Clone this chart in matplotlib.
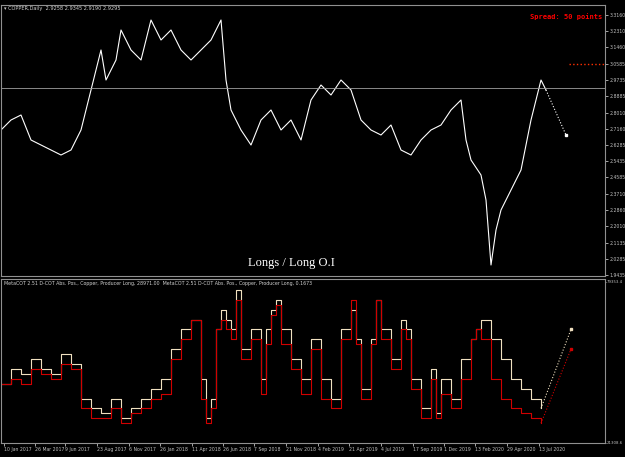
import matplotlib
matplotlib.use("Agg")
import matplotlib.pyplot as plt
import numpy as np

W, H = 625, 457
PX = 0.587  # px per bar

# price keypoints: bar index, price
price_x = [0,10,20,30,40,50,60,70,80,90,100,105,115,120,130,140,150,160,170,180,190,200,210,220,225,230,240,250,260,270,280,290,300,310,320,330,340,350,360,370,380,390,400,410,420,430,440,450,460,465,470,480,485,490,495,500,510,520,530,540,545]
price_ypx = [130,120,115,140,145,150,155,150,130,90,50,80,60,30,50,60,20,40,30,50,60,50,40,20,80,110,130,145,120,110,130,120,140,100,85,95,80,90,120,130,135,125,150,155,140,130,125,110,100,140,160,175,200,265,230,210,190,170,120,80,90]
bars = np.array(price_x) / PX
prices = 3.316 - (np.array(price_ypx) - 15) * (1.3725 / 260)

cot_x = [0,10,20,30,40,50,60,70,80,90,100,110,120,130,140,150,160,170,180,190,200,205,210,215,220,225,230,235,240,250,260,265,270,275,280,290,300,310,320,330,340,350,355,360,370,375,380,390,400,405,410,420,430,435,440,450,460,470,475,480,490,500,510,520,530,540]
ratio_px = [385,370,375,360,370,375,355,365,400,410,415,400,420,410,400,390,380,350,330,320,380,420,400,330,310,320,330,290,350,330,380,330,310,300,330,360,380,340,380,400,330,310,340,390,340,300,330,360,320,330,380,410,370,415,380,400,360,340,330,320,340,360,380,390,400,410]
long_px = [385,380,385,370,375,380,365,370,410,420,420,410,425,415,410,400,395,360,340,320,400,425,410,330,320,330,340,300,360,340,395,345,315,305,345,370,395,350,400,410,340,300,345,400,345,300,340,370,330,340,390,420,380,420,395,410,380,340,330,340,380,400,410,415,420,425]
def pxv(y):
    return 21308.6 + (445 - np.array(y, float)) / (445 - 282) * 58044.8
cot_bars = np.array(cot_x) / PX
ratio_v = pxv(ratio_px)
long_v = pxv(long_px)

price_ticks = [3.3160,3.2310,3.1460,3.0585,2.9735,2.8885,2.8010,2.7160,2.6285,2.5435,2.4585,2.3710,2.2860,2.2010,2.1135,2.0285,1.9435]
date_labels = ["10 Jan 2017","26 Mar 2017","9 Jun 2017","23 Aug 2017","6 Nov 2017","26 Jan 2018","11 Apr 2018","26 Jun 2018","7 Sep 2018","21 Nov 2018","4 Feb 2019","21 Apr 2019","4 Jul 2019","17 Sep 2019","1 Dec 2019","13 Feb 2020","29 Apr 2020","13 Jul 2020"]
date_px = [3,34,64,96,128,159,191,222,253,285,317,348,380,412,443,474,506,538]

fig = plt.figure(figsize=(W/100, H/100), dpi=100, facecolor="black")
xmax = 604 / PX
def box(l, t, r, b):
    return [l/W, 1-b/H, (r-l)/W, (b-t)/H]

ax = fig.add_axes(box(1, 5, 605, 276), facecolor="black")
ax2 = fig.add_axes(box(1, 279, 605, 443), facecolor="black")
for a in (ax, ax2):
    a.set_xlim(0, xmax)
    for s in a.spines.values():
        s.set_color("#909090"); s.set_linewidth(0.8)
    a.tick_params(colors="#c0c0c0", labelsize=3.3, length=2, width=0.6, pad=1)
    a.yaxis.tick_right()

ymin = 3.316 - (276-15)*(1.3725/260); ymax = 3.316 + (15-5)*(1.3725/260)
ax.set_ylim(ymin, ymax)
ax.plot(bars, prices, color="white", lw=0.8)
ax.plot([bars[-1], 565/PX], [prices[-1], 3.316-(135-15)*(1.3725/260)], color="white", lw=0.8, ls=":", marker="s", markevery=[1], ms=2)
ax.axhline(2.9295, color="#a0a0a0", lw=0.6)
ax.plot([568/PX, 603/PX], [3.0585, 3.0585], color="#ff3000", ls=":", lw=1)
ax.set_yticks(price_ticks)
ax.set_yticklabels([f"{t:.4f}" for t in price_ticks])
ax.set_xticks([])
ax.text(0.005, 0.995, "▾ COPPER,Daily  2.9258 2.9345 2.9190 2.9295", transform=ax.transAxes, color="#d0d0d0", fontsize=3.6, va="top")
ax.text(0.995, 0.97, "Spread: 50 points", transform=ax.transAxes, color="red", fontsize=5, ha="right", va="top", family="DejaVu Sans Mono", weight="bold")
ax.text(290/PX, 2.0285 - 0.02, "Longs / Long O.I", color="white", fontsize=9, family="Liberation Serif", ha="center", va="center")

ax2.set_ylim(pxv(443), pxv(279))
ax2.step(cot_bars, ratio_v, where="post", color="#f0e0c0", lw=0.8)
ax2.step(cot_bars, long_v, where="post", color="#d00000", lw=0.8)
ax2.plot([cot_bars[-1], 570/PX], [ratio_v[-1], pxv(330)], color="#f0e0c0", ls=":", lw=0.8, marker="s", markevery=[1], ms=2)
ax2.plot([cot_bars[-1], 570/PX], [long_v[-1], pxv(350)], color="#d00000", ls=":", lw=0.8, marker="s", markevery=[1], ms=2)
ax2.set_yticks([79353.4, 21308.6]); ax2.set_yticklabels(["79353.4", "21308.6"], fontsize=2.8)
ax2.set_yticks([], minor=True)
ax2.tick_params(axis="y", length=1, pad=0.5)
ax2.set_xticks(np.array(date_px) / PX)
ax2.set_xticklabels(date_labels, ha="left", fontsize=3.3)
ax2.text(0.005, 0.99, "MetaCOT 2.51 D-COT Abs. Pos., Copper, Producer Long, 28971.00  MetaCOT 2.51 D-COT Abs. Pos., Copper, Producer Long, 0.1673", transform=ax2.transAxes, color="#d0d0d0", fontsize=3.4, va="top")

fig.savefig("out.png", dpi=100, facecolor="black")
